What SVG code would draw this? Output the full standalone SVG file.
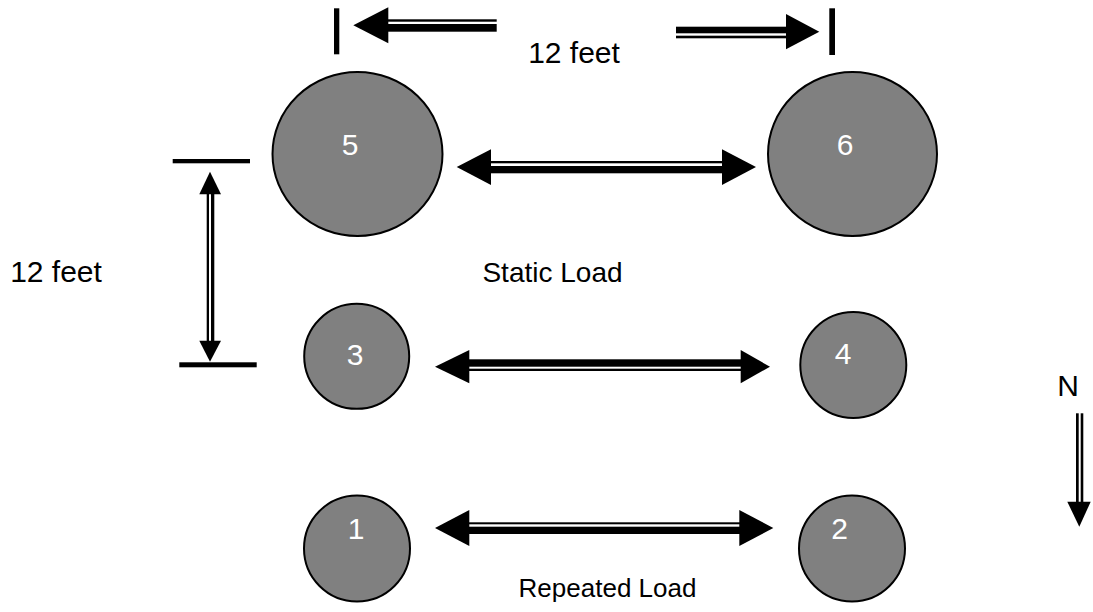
<svg xmlns="http://www.w3.org/2000/svg" width="1093" height="612" viewBox="0 0 1093 612">
<style>
.node{fill:#808080;stroke:#000;stroke-width:2}
.num{font-family:"Liberation Sans",Arial,sans-serif;font-size:30px;fill:#fff;text-anchor:middle}
.lbl{font-family:"Liberation Sans",Arial,sans-serif;font-size:30px;fill:#000;text-anchor:middle}
.ink{fill:#000;stroke:none}
</style>
<rect width="1093" height="612" fill="#fff"/>
<g id="node5"><ellipse class="node" cx="357.5" cy="154" rx="85" ry="82"/><text class="num" x="350" y="155">5</text></g>
<g id="node6"><ellipse class="node" cx="852.5" cy="154" rx="84.5" ry="82"/><text class="num" x="845" y="155">6</text></g>
<g id="node3"><circle class="node" cx="356.7" cy="356.3" r="52.5"/><text class="num" x="355" y="365">3</text></g>
<g id="node4"><circle class="node" cx="853.3" cy="365" r="53"/><text class="num" x="843" y="364">4</text></g>
<g id="node1"><circle class="node" cx="357" cy="548.5" r="53"/><text class="num" x="356" y="539">1</text></g>
<g id="node2"><circle class="node" cx="852" cy="548.5" r="53"/><text class="num" x="839.5" y="539">2</text></g>
<g id="connectors" class="ink">
<polygon points="456.7,167 491,149.3 491,185"/>
<polygon points="756,167 722,149.3 722,185"/>
<rect x="490" y="161" width="233" height="2.3"/>
<rect x="490" y="166" width="233" height="7.3"/>
<polygon points="435,366.7 469.3,350 469.3,383.3"/>
<polygon points="770,366.7 740.7,350 740.7,383.3"/>
<rect x="468" y="359.3" width="274" height="7.4"/>
<rect x="468" y="368.7" width="274" height="2.3"/>
<polygon points="435,528 469.3,510 469.3,546"/>
<polygon points="773.3,528 739.3,510 739.3,546"/>
<rect x="468" y="522.3" width="272" height="2"/>
<rect x="468" y="526.7" width="272" height="7.3"/>
<rect x="334" y="8.3" width="5.3" height="46"/>
<polygon points="353.3,25.3 388.3,7.3 388.3,43.3"/>
<rect x="387" y="19.3" width="109.7" height="2.4"/>
<rect x="387" y="24" width="109.7" height="7.7"/>
<rect x="676" y="26.7" width="111" height="6.6"/>
<rect x="676" y="35.7" width="111" height="2.6"/>
<polygon points="819.3,31.7 786,14 786,49.3"/>
<rect x="829.3" y="8.3" width="5.7" height="46.7"/>
<rect x="172.7" y="159" width="77.3" height="4.3"/>
<rect x="179.3" y="362.3" width="77.4" height="5"/>
<polygon points="210,171.7 199.3,194.3 221,194.3"/>
<polygon points="210,361.7 199.3,340.7 221,340.7"/>
<rect x="206.7" y="193" width="2.3" height="149"/>
<rect x="211" y="193" width="3.3" height="149"/>
<rect x="1076" y="413.3" width="2.7" height="89"/>
<rect x="1080.7" y="413.3" width="2.6" height="89"/>
<polygon points="1067.3,501.7 1090.7,501.7 1079.3,526.7"/>
</g>
<text class="lbl" x="574" y="63">12 feet</text>
<text class="lbl" x="56" y="282">12 feet</text>
<text class="lbl" x="552.5" y="282" style="font-size:28px">Static Load</text>
<text class="lbl" x="607.5" y="597" style="font-size:26px">Repeated Load</text>
<text class="lbl" x="1068" y="396">N</text>
</svg>
